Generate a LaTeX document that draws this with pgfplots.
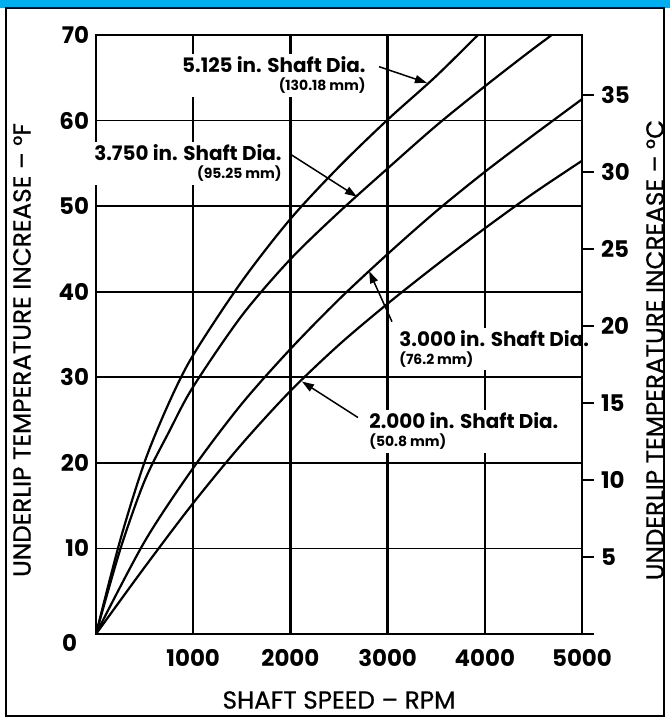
\documentclass[border=0pt]{standalone}
\usepackage{fontspec}
\setmainfont{Poppins}
\newfontfamily\titlefont{Poppins}[FakeBold=0.6]
\usepackage{pgfplots}
\pgfplotsset{compat=1.18}
\usetikzlibrary{arrows.meta}
\definecolor{band}{HTML}{00AEEF}

\begin{document}
\begin{tikzpicture}
% main axis, deg F
\begin{axis}[
  at={(0,0)}, anchor=south west,
  scale only axis, width=243bp, height=299.5bp,
  xmin=0, xmax=5000, ymin=0, ymax=70,
  xtick={1000,2000,3000,4000,5000},
  ytick={10,20,...,70},
  major tick length=0pt,
  grid=major,
  x grid style={black, line width=1.2bp},
  y grid style={black, line width=0.9bp},
  axis line style={black, line width=1bp},
  tick label style={font=\fontsize{11.5}{13}\selectfont\bfseries},
  /pgf/number format/assume math mode=true,
  /pgf/number format/set thousands separator={},
  scaled x ticks=false,
  xticklabel style={yshift=-4bp},
  clip mode=individual,
]
% 5.125 in.
\addplot[black, line width=1.1bp, smooth] coordinates {
  (0,0) (250,11) (500,20.1) (750,27) (1000,32.6) (1500,41.2) (2000,48.5)
  (2500,54.6) (3000,60.1) (3500,65.2) (4000,70.8)};
% 3.750 in.
\addplot[black, line width=1.1bp, smooth] coordinates {
  (0,0) (250,9.9) (500,17.9) (750,23.6) (1000,28.9) (1500,37.2) (2000,43.8)
  (2500,49.3) (3000,54.4) (3500,59.4) (4000,64) (4500,68.4) (5000,72.6)};
% 3.000 in.
\addplot[black, line width=1.1bp, smooth] coordinates {
  (0,0) (500,10.8) (1000,19.4) (1500,26.9) (2000,33.3) (2500,39.1) (3000,44.4)
  (3500,49.4) (4000,54.0) (4500,58.3) (5000,62.5)};
% 2.000 in.
\addplot[black, line width=1.1bp, smooth] coordinates {
  (0,0) (500,7.8) (1000,15.3) (1500,22.2) (2000,28.4) (2500,33.8) (3000,38.6)
  (3500,43.1) (4000,47.4) (4500,51.5) (5000,55.3)};

% curve labels
\node[anchor=east, align=right, fill=white, inner sep=1.5bp, font=\fontsize{10}{10}\selectfont\bfseries]
  at (axis cs:2809,65.3) {5.125 in. Shaft Dia.\\[-1bp]{\fontsize{7}{8}\selectfont (130.18 mm)}};
\node[anchor=east, align=right, fill=white, inner sep=1.5bp, font=\fontsize{10}{10}\selectfont\bfseries]
  at (axis cs:1944,55.0) {3.750 in. Shaft Dia.\\[-1bp]{\fontsize{7}{8}\selectfont (95.25 mm)}};
\node[anchor=west, align=left, fill=white, inner sep=1.5bp, font=\fontsize{10}{10}\selectfont\bfseries]
  at (axis cs:3086,33.3) {3.000 in. Shaft Dia.\\[-1bp]{\fontsize{7}{8}\selectfont (76.2 mm)}};
\node[anchor=west, align=left, fill=white, inner sep=1.5bp, font=\fontsize{10}{10}\selectfont\bfseries]
  at (axis cs:2778,23.7) {2.000 in. Shaft Dia.\\[-1bp]{\fontsize{7}{8}\selectfont (50.8 mm)}};

\draw[-{Triangle[length=6bp,width=4bp]}, line width=0.75bp] (axis cs:2912,66.3) -- (axis cs:3405,64.4);
\draw[-{Triangle[length=6bp,width=4bp]}, line width=0.75bp] (axis cs:1996,56.1) -- (axis cs:2685,51.1);
\draw[-{Triangle[length=6bp,width=4bp]}, line width=0.75bp] (axis cs:3045,36.5) -- (axis cs:2810,42.4);
\draw[-{Triangle[length=6bp,width=4bp]}, line width=0.75bp] (axis cs:2695,25.3) -- (axis cs:2119,29.5);
\end{axis}

% right axis, deg C
\begin{axis}[
  at={(0,0)}, anchor=south west,
  scale only axis, width=243bp, height=299.5bp,
  xmin=0, xmax=5000, ymin=0, ymax=38.8889,
  axis x line=none, axis y line*=right,
  ytick={0,5,...,35},
  yticklabels={,5,10,15,20,25,30,35},
  tick align=outside, major tick length=6bp,
  tick style={black, line width=1bp},
  axis line style={black, line width=1bp},
  tick label style={font=\fontsize{11.5}{13}\selectfont\bfseries},
  /pgf/number format/assume math mode=true,
]
\end{axis}

\node[font=\fontsize{11.5}{13}\selectfont\bfseries, anchor=east] at (-6bp,-4.5bp) {0};
\node[rotate=90, font=\fontsize{12.4}{14}\titlefont] at (-37bp,142bp) {UNDERLIP TEMPERATURE INCREASE – °F};
\node[rotate=90, font=\fontsize{12.4}{14}\titlefont] at (279.5bp,142bp) {UNDERLIP TEMPERATURE INCREASE – °C};
\node[font=\fontsize{12.4}{14}\titlefont] at (121.5bp,-33bp) {SHAFT SPEED – RPM};

% frame and top band
\fill[band] (-48bp,313bp) rectangle (287bp,317bp);
\draw[line width=1.2bp] (-45bp,-41bp) rectangle (284bp,313bp);
\pgfresetboundingbox
\path[use as bounding box] (-48bp,-44bp) rectangle (287bp,317bp);
\end{tikzpicture}
\end{document}
